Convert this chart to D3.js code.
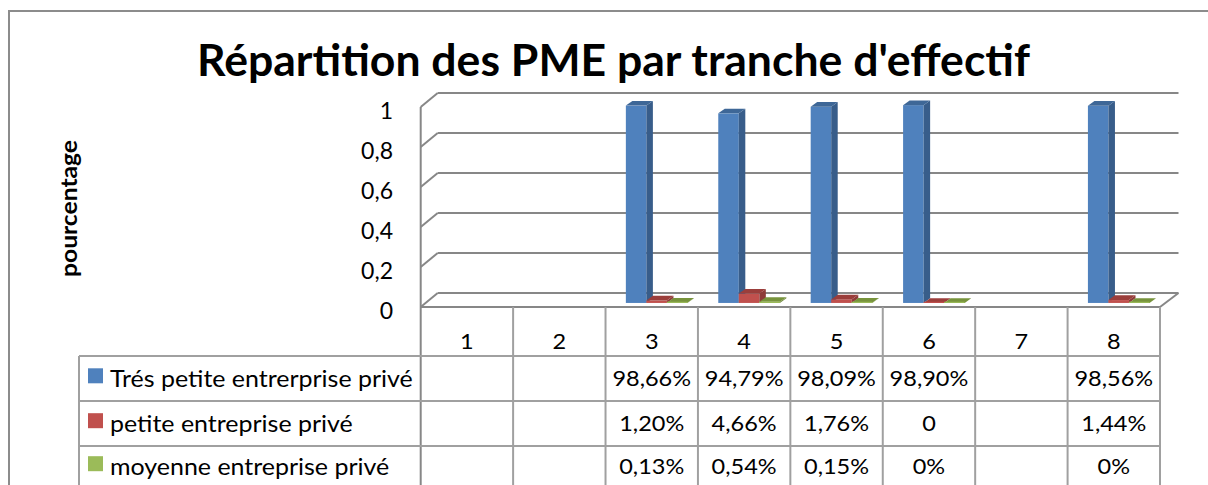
<!DOCTYPE html>
<html>
<head>
<meta charset="utf-8">
<script src="https://cdn.jsdelivr.net/npm/d3@7"></script>
<style>
  html, body { margin: 0; padding: 0; background: #fff; }
  svg { display: block; }
  text { font-family: Lato, "Open Sans", sans-serif; fill: #000; }
</style>
</head>
<body>
<svg id="chart" width="1208" height="485"></svg>
<script>
// ---------------- data ----------------
const title = "Répartition des PME par tranche d'effectif";
const yTitle = "pourcentage";
const categories = ["1", "2", "3", "4", "5", "6", "7", "8"];
const seriesNames = ["Trés petite entrerprise privé", "petite entreprise privé", "moyenne entreprise privé"];
const tpeValues = [null, null, 0.9866, 0.9479, 0.9809, 0.9890, null, 0.9856];
const peValues  = [null, null, 0.0120, 0.0466, 0.0176, 0,      null, 0.0144];
const meValues  = [null, null, 0.0013, 0.0054, 0.0015, 0,      null, 0];
const tpeLabels = ["", "", "98,66%", "94,79%", "98,09%", "98,90%", "", "98,56%"];
const peLabels  = ["", "", "1,20%", "4,66%", "1,76%", "0", "", "1,44%"];
const meLabels  = ["", "", "0,13%", "0,54%", "0,15%", "0%", "", "0%"];
const yTicks = [0, 0.2, 0.4, 0.6, 0.8, 1];
const yTickLabels = ["0", "0,2", "0,4", "0,6", "0,8", "1"];

// ---------------- styles ----------------
const seriesColors = [
  { front: "#4F81BD", side: "#385D8A", top: "#3E6797" },
  { front: "#C0504D", side: "#8E3B39", top: "#9B3E3B" },
  { front: "#9BBB59", side: "#71893F", top: "#77933C" }
];
const gridColor = "#878787";
const tableColor = "#a0a0a0";

const svg = d3.select("#chart");

// geometry
const plotLeft = 420.7, plotRight = 1160;
const floorFront = 307, depthX = 17, depthY = 14;
const barDepthFrac = 0.29;
const bdx = 6.5, bdy = 4.7;

const xCol = d3.scaleBand().domain(categories).range([plotLeft, plotRight]);
const xGroup = d3.scaleBand().domain(categories)
  .range([plotLeft + depthX * barDepthFrac, plotRight + depthX * barDepthFrac])
  .paddingInner(1 / 3).paddingOuter(1 / 6);
const xSeries = d3.scaleBand().domain(d3.range(seriesNames.length)).range([0, xGroup.bandwidth()]);
const yFront = d3.scaleLinear().domain([0, 1]).range([floorFront, floorFront - 200]);
const barBase = floorFront - depthY * barDepthFrac;
const yBar = d3.scaleLinear().domain([0, 1]).range([barBase, barBase - 200]);

// outer border
svg.append("path")
  .attr("d", `M9,485 L9,11 L1208,11`)
  .attr("fill", "none").attr("stroke", "#8c8c8c").attr("stroke-width", 2);

// title
svg.append("text")
  .attr("x", 197).attr("y", 76)
  .attr("font-size", 43).attr("font-weight", "bold")
  .attr("textLength", 833).attr("lengthAdjust", "spacingAndGlyphs")
  .text(title);

// y title
svg.append("text")
  .attr("transform", "translate(77,208.5) rotate(-90)")
  .attr("text-anchor", "middle")
  .attr("font-size", 22).attr("font-weight", "bold")
  .attr("textLength", 137).attr("lengthAdjust", "spacingAndGlyphs")
  .text(yTitle);

// back wall gridlines
const grid = svg.append("g").attr("stroke", gridColor).attr("stroke-width", 2).attr("fill", "none");
grid.selectAll("line.back").data(yTicks).enter().append("line")
  .attr("x1", plotLeft + depthX).attr("x2", plotRight + depthX + 1.5)
  .attr("y1", d => yFront(d) - depthY).attr("y2", d => yFront(d) - depthY);
grid.selectAll("line.side").data(yTicks).enter().append("line")
  .attr("x1", plotLeft).attr("x2", plotLeft + depthX)
  .attr("y1", d => yFront(d)).attr("y2", d => yFront(d) - depthY);
// left axis
grid.append("line").attr("x1", plotLeft).attr("x2", plotLeft)
  .attr("y1", yFront(1)).attr("y2", 485);
// floor right edge
grid.append("line").attr("x1", plotRight).attr("x2", plotRight + depthX + 1.5)
  .attr("y1", floorFront).attr("y2", floorFront - depthY);

// y tick labels
svg.append("g").selectAll("text").data(yTicks).enter().append("text")
  .attr("x", 393).attr("y", d => yFront(d) + 3.5 + 8.3)
  .attr("text-anchor", "end").attr("font-size", 23)
  .text((d, i) => yTickLabels[i]);

// bars
const seriesValues = [tpeValues, peValues, meValues];
const barsG = svg.append("g");
categories.forEach((cat, ci) => {
  seriesValues.forEach((vals, si) => {
    const v = vals[ci];
    if (v === null || v === undefined) return;
    const x0 = xGroup(cat) + xSeries(si);
    const w = xSeries.bandwidth();
    const top = yBar(v);
    const c = seriesColors[si];
    const g = barsG.append("g");
    // front
    g.append("rect").attr("x", x0).attr("y", top).attr("width", w)
      .attr("height", Math.max(0, barBase - top)).attr("fill", c.front);
    // side
    g.append("path")
      .attr("d", `M${x0 + w},${top} L${x0 + w + bdx},${top - bdy} L${x0 + w + bdx},${barBase - bdy} L${x0 + w},${barBase} Z`)
      .attr("fill", c.side);
    // top
    g.append("path")
      .attr("d", `M${x0},${top} L${x0 + bdx},${top - bdy} L${x0 + w + bdx},${top - bdy} L${x0 + w},${top} Z`)
      .attr("fill", c.top);
    if (barBase - top < 1.5) {
      g.append("rect").attr("x", x0).attr("y", barBase - 1.2).attr("width", w)
        .attr("height", 1.2).attr("fill", c.front);
    }
  });
});

// ---------------- data table ----------------
const legendLeft = 79;
const table = svg.append("g").attr("stroke", tableColor).attr("stroke-width", 2).attr("fill", "none");
// front floor edge / header top
table.append("line").attr("x1", plotLeft).attr("x2", plotRight)
  .attr("y1", floorFront).attr("y2", floorFront).attr("stroke", gridColor);
// horizontal rows
[356, 401, 446].forEach(y => {
  table.append("line").attr("x1", legendLeft).attr("x2", plotRight).attr("y1", y).attr("y2", y);
});
// vertical column lines
categories.forEach(cat => {
  table.append("line").attr("x1", xCol(cat) + xCol.bandwidth()).attr("x2", xCol(cat) + xCol.bandwidth())
    .attr("y1", floorFront).attr("y2", 485);
});
table.append("line").attr("x1", legendLeft).attr("x2", legendLeft).attr("y1", 356).attr("y2", 485);

const tableFont = 21, stretch = 1.12;
function cellText(x, yCenter, str, anchor, size) {
  const fs = size || tableFont;
  svg.append("text")
    .attr("transform", `translate(${x},${yCenter + fs * 0.36}) scale(${stretch},1)`)
    .attr("text-anchor", anchor || "middle")
    .attr("font-size", fs)
    .text(str);
}
// header
categories.forEach(cat => cellText(xCol(cat) + xCol.bandwidth() / 2, 341.5, cat));
const rowCenters = [378.8, 423.7, 466.7];
const rowLabels = [tpeLabels, peLabels, meLabels];
rowLabels.forEach((labels, ri) => {
  labels.forEach((lab, ci) => {
    if (lab) cellText(xCol(categories[ci]) + xCol.bandwidth() / 2, rowCenters[ri], lab);
  });
  // legend key
  svg.append("rect").attr("x", 88).attr("y", rowCenters[ri] - 10.5).attr("width", 15).attr("height", 15)
    .attr("fill", seriesColors[ri].front);
  cellText(110, rowCenters[ri], seriesNames[ri], "start", 22.3);
});
</script>
</body>
</html>
